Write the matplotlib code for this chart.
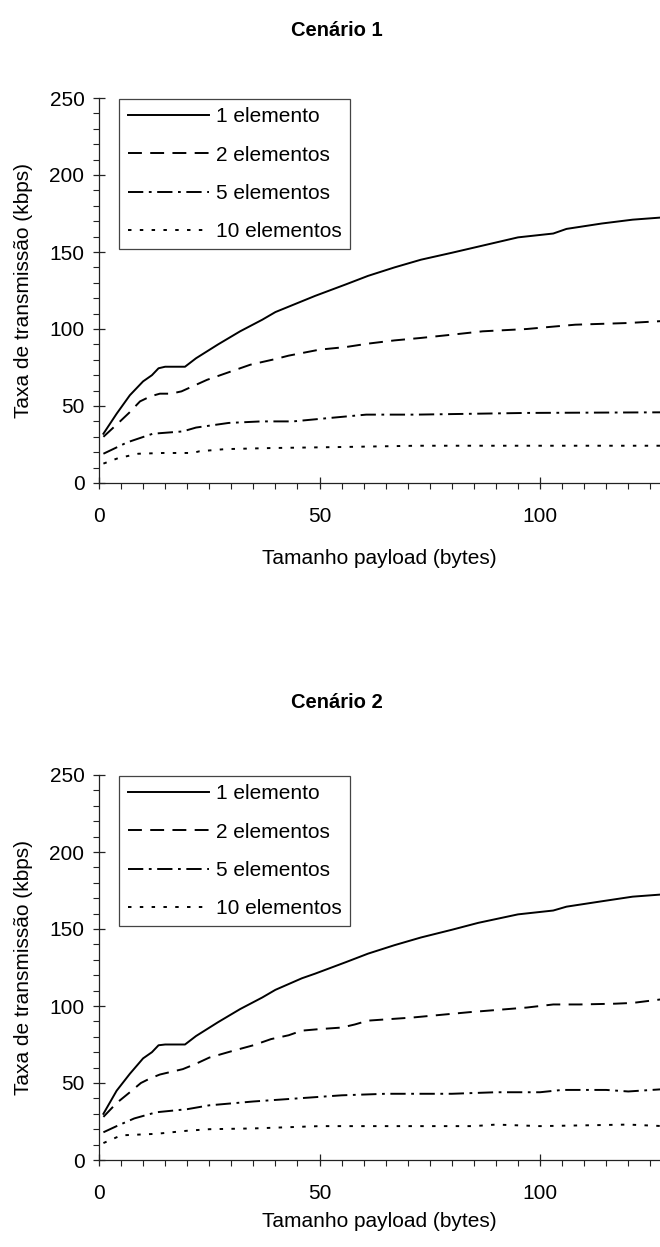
import matplotlib
matplotlib.use('agg')
import matplotlib.pyplot as plt
from matplotlib.ticker import MultipleLocator

plt.rcParams['font.family'] = ['Liberation Sans', 'DejaVu Sans']
plt.rcParams['lines.scale_dashes'] = False

labels = ['1 elemento', '2 elementos', '5 elementos', '10 elementos']

# Cenário 1
c1_x1 = [1, 4, 7, 10, 12, 13.5, 15, 19.5, 22, 27, 32, 37, 40, 46, 49, 56, 61, 67, 73, 80, 86, 95, 103, 106, 114, 121, 128]
c1_y1 = [32, 45, 57, 66, 70, 74.5, 75.5, 75.5, 81, 90, 98.5, 106, 111, 118, 121.5, 129, 134.5, 140, 145, 149.5, 153.5, 159.5, 162, 165, 168.5, 171, 172.5]
c1_x2 = [1, 4.4, 6.8, 9.3, 11.7, 13.8, 16.3, 18.7, 24.5, 34.3, 40, 43, 50, 56, 61, 67, 73, 80, 87, 97, 102, 108, 120, 128]
c1_y2 = [30, 39, 45.5, 53, 56.3, 58, 58, 59.5, 67, 76.8, 80.5, 82.7, 86.6, 88.3, 90.5, 92.6, 94.2, 96.3, 98.5, 100, 101.3, 102.8, 103.9, 105.2]
c1_x5 = [1, 6.4, 12.2, 19, 22, 29.4, 36.8, 44, 50.7, 60.6, 72, 97, 128]
c1_y5 = [19, 26.4, 32, 33.5, 36, 39, 40, 40, 41.8, 44.4, 44.4, 45.5, 45.9]
c1_x10 = [1, 4.4, 8.9, 14.6, 21.2, 22.8, 28.6, 39, 55.7, 72, 128]
c1_y10 = [12.6, 16.2, 19, 19.5, 19.5, 20.6, 22, 22.7, 23.4, 24.2, 24.2]

# Cenário 2
c2_x1 = [1, 4, 7, 10, 12, 13.5, 15, 19.5, 22, 27, 32, 37, 40, 46, 49, 56, 61, 67, 73, 80, 86, 95, 103, 106, 114, 121, 128]
c2_y1 = [30, 45, 56, 66, 70, 74.5, 75, 75, 80.5, 89.5, 98, 105.5, 110.5, 118, 121, 128.5, 134, 139.5, 144.5, 149.5, 154, 159.5, 162, 164.5, 168, 171, 172.5]
c2_x2 = [1, 4, 7, 9.5, 11.6, 13.8, 16, 19, 22, 25, 30.5, 35, 39, 43, 46, 50, 55, 58, 61, 71, 84, 97, 103, 109, 117, 121, 128]
c2_y2 = [28, 37, 44, 50, 53, 55.5, 57, 59, 62.5, 66.5, 71, 74.5, 78.5, 81, 84, 85, 86, 88, 90.5, 92.5, 96, 99, 101, 101, 101.5, 102, 104.5]
c2_x5 = [1, 4, 8, 13, 20, 25, 35, 45, 55, 65, 80, 90, 100, 105, 115, 120, 128]
c2_y5 = [18, 22, 27, 31, 33, 35.5, 38, 40, 42, 43, 43, 44, 44, 45.5, 45.5, 44.5, 46]
c2_x10 = [1, 5, 13, 20, 25, 35, 40, 50, 85, 90, 100, 120, 128]
c2_y10 = [11, 16, 17, 19, 20, 20.5, 21, 22, 22, 23, 22, 23, 22]

styles = [
    dict(linestyle='-'),
    dict(dashes=[10, 6]),
    dict(dashes=[11, 4, 2, 4]),
    dict(dashes=[2.5, 6]),
]

FS = 15


def draw(ax, series, title, title_y, xlabelpad):
    for (x, y), lab, st in zip(series, labels, styles):
        ax.plot(x, y, color='black', linewidth=1.4, label=lab, **st)
    ax.set_xlim(0, 127.2)
    ax.set_ylim(0, 250)
    ax.xaxis.set_major_locator(MultipleLocator(50))
    ax.xaxis.set_minor_locator(MultipleLocator(5))
    ax.yaxis.set_major_locator(MultipleLocator(50))
    ax.yaxis.set_minor_locator(MultipleLocator(10))
    ax.spines['top'].set_visible(False)
    ax.spines['right'].set_visible(False)
    for s in ('left', 'bottom'):
        ax.spines[s].set_linewidth(0.9)
        ax.spines[s].set_color('#222222')
    ax.tick_params(which='major', direction='inout', length=9, width=0.9,
                   labelsize=FS, color='#222222')
    ax.tick_params(axis='x', which='major', pad=13)
    ax.tick_params(axis='y', which='major', pad=6)
    ax.tick_params(which='minor', direction='out', length=4, width=0.8, color='#222222')
    ax.set_xlabel('Tamanho payload (bytes)', fontsize=FS, labelpad=xlabelpad)
    ax.set_ylabel('Taxa de transmissão (kbps)', fontsize=FS, labelpad=12)
    leg = ax.legend(loc='upper left', bbox_to_anchor=(0.036, 0.997), borderaxespad=0,
                    fontsize=FS, handlelength=3.9, handletextpad=0.35, labelspacing=0.92,
                    fancybox=False, framealpha=1, borderpad=0.4)
    leg.get_frame().set_edgecolor('#444444')
    leg.get_frame().set_linewidth(0.9)
    fig.text(337 / 660, title_y, title, ha='center', va='center',
             fontsize=14.5, fontweight='bold')


fig = plt.figure(figsize=(6.6, 12.47), dpi=100)
ax1 = fig.add_axes([99 / 660, 1 - 483 / 1247, 561 / 660, 385 / 1247])
ax2 = fig.add_axes([99 / 660, 1 - 1160 / 1247, 561 / 660, 385 / 1247])

draw(ax1, [(c1_x1, c1_y1), (c1_x2, c1_y2), (c1_x5, c1_y5), (c1_x10, c1_y10)],
     'Cenário 1', 1 - 30 / 1247, 16)
draw(ax2, [(c2_x1, c2_y1), (c2_x2, c2_y2), (c2_x5, c2_y5), (c2_x10, c2_y10)],
     'Cenário 2', 1 - 703 / 1247, 6)

fig.savefig('out.png', dpi=100)
